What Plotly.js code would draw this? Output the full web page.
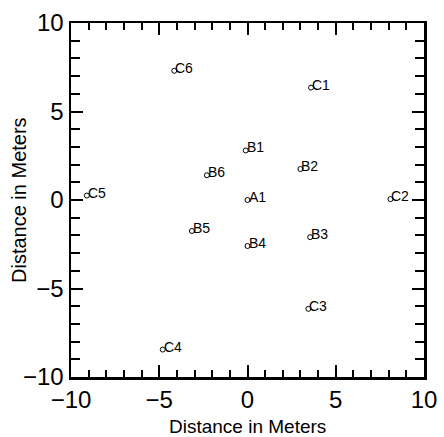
<!DOCTYPE html>
<html>
<head>
<meta charset="utf-8">
<script src="https://cdn.plot.ly/plotly-3.0.1.min.js"></script>
<style>html,body{margin:0;padding:0;background:#fff;}#chart{width:444px;height:437px;}</style>
</head>
<body>
<div id="chart"></div>
<script>
const labels = ["A1","B1","B2","B3","B4","B5","B6","C1","C2","C3","C4","C5","C6"];
const xValues = [0, -0.1, 3.0, 3.55, 0.0, -3.15, -2.3, 3.6, 8.1, 3.45, -4.8, -9.1, -4.15];
const yValues = [0, 2.8, 1.75, -2.1, -2.6, -1.75, 1.4, 6.35, 0.05, -6.15, -8.45, 0.25, 7.3];
const tickValues = [-10, -5, 0, 5, 10];
const axisTitle = "Distance in Meters";

const FONT = "Liberation Sans, Arial, Helvetica, sans-serif";

const annotations = labels.map((t, i) => ({
  x: xValues[i], y: yValues[i], text: t, showarrow: false,
  xanchor: 'left', yanchor: 'middle', xshift: -1, yshift: 3,
  font: {family: FONT, size: 14, color: '#000'}
}));
annotations.push({
  xref: 'paper', yref: 'paper', x: 0.5, y: 0, xanchor: 'center', yanchor: 'middle',
  yshift: -49, text: axisTitle, showarrow: false, borderpad: 0,
  font: {family: FONT, size: 19, color: '#000'}
});
annotations.push({
  xref: 'paper', yref: 'paper', x: 0, y: 0.5, xanchor: 'center', yanchor: 'middle',
  xshift: -52, textangle: -90, text: axisTitle, showarrow: false, borderpad: 0,
  font: {family: FONT, size: 20, color: '#000'}
});

function axis(minorLen, labelsOn) {
  return {
    range: [-10, 10], tickvals: tickValues, ticks: 'inside', ticklen: 12, tickwidth: 2,
    tickcolor: '#000', showline: true, linewidth: 2.5, linecolor: '#000', mirror: false,
    showgrid: false, zeroline: false, showticklabels: labelsOn, fixedrange: true,
    tickfont: {family: FONT, size: 24, color: '#000'},
    minor: {dtick: 1, ticks: 'inside', ticklen: minorLen, tickwidth: 2, tickcolor: '#000', showgrid: false}
  };
}

const xa = axis(7, true);
const ya = axis(9, true);
const xa2 = axis(7, false); xa2.overlaying = 'x'; xa2.side = 'top'; xa2.anchor = 'y';
const ya2 = axis(9, false); ya2.overlaying = 'y'; ya2.side = 'right'; ya2.anchor = 'x';

Plotly.newPlot('chart', [{
  x: xValues, y: yValues, mode: 'markers', type: 'scatter',
  marker: {symbol: 'circle-open', size: 5, color: '#000', line: {width: 1, color: '#000'}},
  hoverinfo: 'skip'
}, {
  x: [], y: [], xaxis: 'x2', yaxis: 'y2', mode: 'markers', type: 'scatter', hoverinfo: 'skip'
}], {
  width: 444, height: 437,
  margin: {l: 71, r: 20, t: 23, b: 60},
  paper_bgcolor: '#fff', plot_bgcolor: '#fff',
  showlegend: false,
  xaxis: xa, yaxis: ya, xaxis2: xa2, yaxis2: ya2,
  annotations: annotations
}, {staticPlot: true});
</script>
</body>
</html>
